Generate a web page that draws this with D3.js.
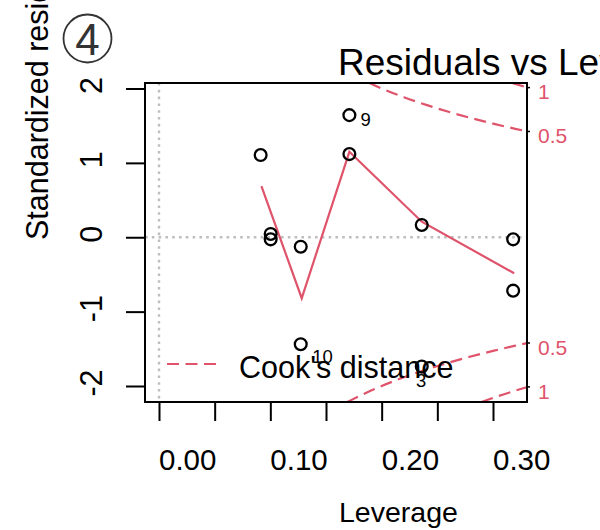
<!DOCTYPE html>
<html>
<head>
<meta charset="utf-8">
<script src="https://cdn.jsdelivr.net/npm/d3@7"></script>
<style>
  html, body { margin: 0; padding: 0; background: #fff; }
  svg { display: block; font-family: "Liberation Sans", Arial, Helvetica, sans-serif; }
</style>
</head>
<body>
<svg id="chart" width="600" height="530"></svg>
<script>
// Observations: leverage (hat values) and standardized residuals
const leverage  = [0.0913, 0.1003, 0.1003, 0.1273, 0.1273, 0.1710, 0.1710, 0.2360, 0.2360, 0.3181, 0.3181];
const stdResid  = [1.105, 0.044, -0.028, -0.127, -1.438, 1.642, 1.118, 0.165, -1.739, -0.028, -0.718];
const pointIds  = ["", "", "", "", "10", "9", "", "", "3", "", ""];

// Smoothed trend of residuals against leverage
const smoothLev = [0.092, 0.1282, 0.1710, 0.2360, 0.319];
const smoothRes = [0.688, -0.820, 1.149, 0.209, -0.484];

// Cook's distance contours, visible part of each branch
const cookHalfUpperLev = [0.189, 0.20, 0.22, 0.24, 0.26, 0.28, 0.30, 0.32, 0.331];
const cookHalfUpperRes = [2.074, 2.000, 1.883, 1.780, 1.687, 1.604, 1.528, 1.458, 1.422];
const cookHalfLowerLev = [0.169, 0.18, 0.19, 0.20, 0.22, 0.24, 0.26, 0.28, 0.30, 0.32, 0.331];
const cookHalfLowerRes = [-2.217, -2.134, -2.065, -2.000, -1.883, -1.780, -1.687, -1.604, -1.528, -1.458, -1.422];
const cookOneUpperLev  = [0.3174, 0.32, 0.331];
const cookOneUpperRes  = [2.074, 2.062, 2.012];
const cookOneLowerLev  = [0.2896, 0.30, 0.31, 0.32, 0.331];
const cookOneLowerRes  = [-2.215, -2.160, -2.110, -2.062, -2.012];
const cookLevels       = ["0.5", "1"];

// Axis ticks
const xTicks      = [0, 0.05, 0.10, 0.15, 0.20, 0.25, 0.30];
const xTickLabels = ["0.00", "", "0.10", "", "0.20", "", "0.30"];
const yTicks      = [-2, -1, 0, 1, 2];

const RED = "#DF536B";
const GREY = "#BEBEBE";

const svg = d3.select("#chart");

const x = d3.scaleLinear().domain([0, 0.30]).range([159, 493]);
const y = d3.scaleLinear().domain([-2, 2]).range([386, 88.5]);

// plot region (user coordinates extend a little past the data)
const box = { left: 145, right: 527, top: 83, bottom: 402 };

svg.append("defs").append("clipPath").attr("id", "plotClip")
  .append("rect")
  .attr("x", box.left).attr("y", box.top)
  .attr("width", box.right - box.left).attr("height", box.bottom - box.top);

const plot = svg.append("g").attr("clip-path", "url(#plotClip)");

// reference lines at zero leverage and zero residual
plot.append("line")
  .attr("x1", x(0)).attr("x2", x(0))
  .attr("y1", box.top).attr("y2", box.bottom)
  .attr("stroke", GREY).attr("stroke-width", 2.4)
  .attr("stroke-dasharray", "2.6,4.2");
plot.append("line")
  .attr("x1", box.left).attr("x2", box.right)
  .attr("y1", y(0)).attr("y2", y(0))
  .attr("stroke", GREY).attr("stroke-width", 2.4)
  .attr("stroke-dasharray", "2.6,4.2");

// Cook's distance contours
const line = d3.line().x(d => x(d[0])).y(d => y(d[1])).curve(d3.curveMonotoneX);
const cookCurves = [
  { lev: cookHalfUpperLev, res: cookHalfUpperRes },
  { lev: cookHalfLowerLev, res: cookHalfLowerRes },
  { lev: cookOneUpperLev,  res: cookOneUpperRes },
  { lev: cookOneLowerLev,  res: cookOneLowerRes }
];
cookCurves.forEach(c => {
  plot.append("path")
    .attr("d", line(c.lev.map((h, i) => [h, c.res[i]])))
    .attr("fill", "none")
    .attr("stroke", RED).attr("stroke-width", 2.2)
    .attr("stroke-dasharray", "12,6.5");
});

// smoothed trend line
plot.append("path")
  .attr("d", d3.line().x(d => x(d[0])).y(d => y(d[1]))(smoothLev.map((h, i) => [h, smoothRes[i]])))
  .attr("fill", "none")
  .attr("stroke", RED).attr("stroke-width", 2.2);

// observations
svg.append("g").selectAll("circle")
  .data(leverage.map((h, i) => ({ h, r: stdResid[i] })))
  .join("circle")
  .attr("cx", d => x(d.h)).attr("cy", d => y(d.r)).attr("r", 5.9)
  .attr("fill", "none").attr("stroke", "#000").attr("stroke-width", 2.3);

// labels for the most extreme observations
const idOffsets = { "9": [11, 11, "start"], "10": [11.5, 19, "start"], "3": [-0.5, 20, "middle"] };
svg.append("g").selectAll("text")
  .data(leverage.map((h, i) => ({ h, r: stdResid[i], id: pointIds[i] })).filter(d => d.id))
  .join("text")
  .attr("x", d => x(d.h) + idOffsets[d.id][0])
  .attr("y", d => y(d.r) + idOffsets[d.id][1])
  .attr("text-anchor", d => idOffsets[d.id][2])
  .attr("font-size", 18.5).attr("fill", "#000")
  .text(d => d.id);

// frame
svg.append("rect")
  .attr("x", box.left).attr("y", box.top)
  .attr("width", box.right - box.left).attr("height", box.bottom - box.top)
  .attr("fill", "none").attr("stroke", "#000").attr("stroke-width", 2);

// x axis
const xAxis = d3.axisBottom(x).tickValues(xTicks).tickSize(19).tickFormat("");
const gx = svg.append("g").attr("transform", `translate(0,${box.bottom})`).call(xAxis);
gx.select(".domain").remove();
gx.selectAll(".tick line").attr("stroke", "#000").attr("stroke-width", 2);
svg.append("g").selectAll("text")
  .data(xTicks.map((v, i) => ({ v, label: xTickLabels[i] })).filter(d => d.label))
  .join("text")
  .attr("x", d => x(d.v)).attr("y", 470)
  .attr("font-size", 29.5).attr("fill", "#000")
  .text(d => d.label);

// y axis
const yAxis = d3.axisLeft(y).tickValues(yTicks).tickSize(19).tickFormat("");
const gy = svg.append("g").attr("transform", `translate(${box.left},0)`).call(yAxis);
gy.select(".domain").remove();
gy.selectAll(".tick line").attr("stroke", "#000").attr("stroke-width", 2);
svg.append("g").selectAll("text")
  .data(yTicks)
  .join("text")
  .attr("transform", d => `translate(102,${y(d) - 3}) rotate(-90)`)
  .attr("text-anchor", "middle")
  .attr("font-size", 30.5).attr("fill", "#000")
  .text(d => String(d));

// right-hand contour labels
const cookEnds = [
  [cookHalfUpperRes[cookHalfUpperRes.length - 1], cookHalfLowerRes[cookHalfLowerRes.length - 1]],
  [cookOneUpperRes[cookOneUpperRes.length - 1], cookOneLowerRes[cookOneLowerRes.length - 1]]
];
cookLevels.forEach((lab, i) => {
  cookEnds[i].forEach(v => {
    const yy = y(v);
    svg.append("line")
      .attr("x1", box.right).attr("x2", box.right + 3)
      .attr("y1", yy).attr("y2", yy)
      .attr("stroke", "#000").attr("stroke-width", 1.5);
    svg.append("text")
      .attr("x", 538).attr("y", yy + 11.8)
      .attr("font-size", 21).attr("fill", RED)
      .text(lab);
  });
});

// axis titles and main title
svg.append("text")
  .attr("x", 339).attr("y", 522)
  .attr("font-size", 28.5).attr("fill", "#000")
  .text("Leverage");
svg.append("text")
  .attr("transform", "translate(48,240) rotate(-90)")
  .attr("font-size", 30.5).attr("fill", "#000")
  .text("Standardized residuals");
svg.append("text")
  .attr("x", 338).attr("y", 75)
  .attr("font-size", 37).attr("fill", "#000")
  .text("Residuals vs Leverage");

// legend
svg.append("line")
  .attr("x1", 167).attr("x2", 216)
  .attr("y1", 364).attr("y2", 364)
  .attr("stroke", RED).attr("stroke-width", 2.2)
  .attr("stroke-dasharray", "12,6.5");
svg.append("text")
  .attr("x", 239).attr("y", 378)
  .attr("font-size", 30.5).attr("fill", "#000")
  .text("Cook's distance");

// panel badge
svg.append("circle")
  .attr("cx", 87.5).attr("cy", 38.5).attr("r", 24)
  .attr("fill", "none").attr("stroke", "#333").attr("stroke-width", 1.8);
svg.append("text")
  .attr("x", 87.5).attr("y", 55)
  .attr("text-anchor", "middle")
  .attr("font-size", 44).attr("fill", "#333")
  .text("4");
</script>
</body>
</html>
